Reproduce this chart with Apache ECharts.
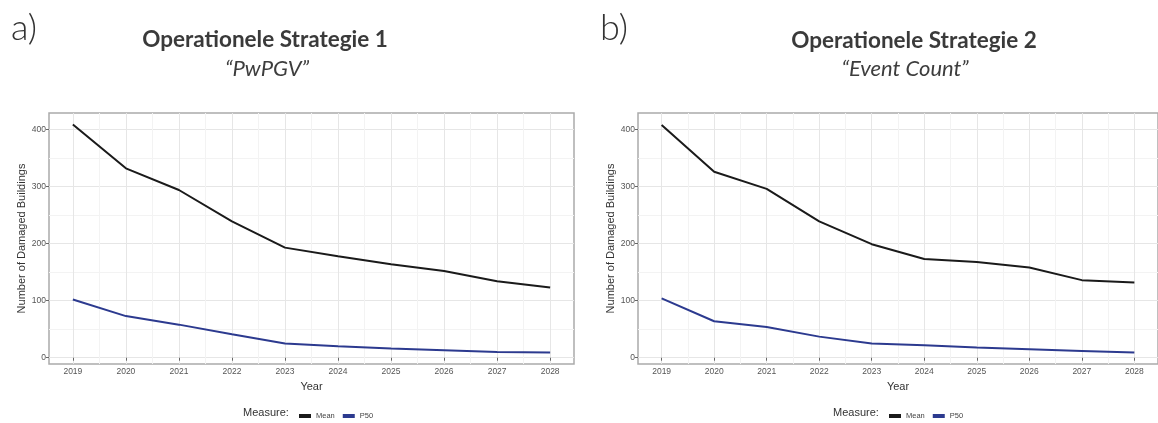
<!DOCTYPE html>
<html>
<head>
<meta charset="utf-8">
<script src="https://cdn.jsdelivr.net/npm/echarts@6/dist/echarts.min.js"></script>
<style>html,body{margin:0;padding:0;background:#fff;}#c{width:1158px;height:423px;}</style>
</head>
<body>
<div id="c"></div>
<script>
var years = [2019, 2020, 2021, 2022, 2023, 2024, 2025, 2026, 2027, 2028];
var mean1 = [409, 332, 294, 239, 193, 178, 164, 152, 134, 123];
var p50_1 = [102, 73, 58, 41, 25, 20, 16, 13, 10, 9];
var mean2 = [408, 326, 296, 239, 199, 173, 168, 158, 136, 132];
var p50_2 = [104, 64, 54, 37, 25, 22, 18, 15, 12, 9];
var yTicks = [0, 100, 200, 300, 400];
var yMinor = [50, 150, 250, 350];
var xMinor = [2019.5, 2020.5, 2021.5, 2022.5, 2023.5, 2024.5, 2025.5, 2026.5, 2027.5];

function pairs(vals) { return years.map(function (y, i) { return [y, vals[i]]; }); }

var FONT = 'Liberation Sans';
var tickCol = '#555';

function xMain(grid) {
  return {
    type: 'value', gridIndex: grid, min: 2018.55, max: 2028.45,
    name: 'Year', nameLocation: 'middle', nameGap: 17,
    nameTextStyle: { fontFamily: FONT, fontSize: 11, color: '#333' },
    axisLine: { show: false },
    axisTick: { show: true, length: 3, lineStyle: { color: '#666' }, customValues: years },
    axisLabel: { fontFamily: FONT, fontSize: 8.5, color: tickCol, margin: 3, customValues: years, formatter: function (v) { return String(v); } },
    splitLine: { show: true, lineStyle: { color: '#e6e6e6', width: 1 } }
  };
}
function xMin(grid) {
  return {
    type: 'value', gridIndex: grid, min: 2018.55, max: 2028.45, position: 'bottom',
    axisLine: { show: false }, axisTick: { show: false, customValues: xMinor },
    axisLabel: { show: false, customValues: xMinor },
    splitLine: { show: true, lineStyle: { color: '#f3f3f3', width: 1 } }
  };
}
function yMain(grid) {
  return {
    type: 'value', gridIndex: grid, min: -11, max: 429,
    name: 'Number of Damaged Buildings', nameLocation: 'middle', nameGap: 22,
    nameTextStyle: { fontFamily: FONT, fontSize: 11, color: '#333' },
    axisLine: { show: false },
    axisTick: { show: true, length: 3, lineStyle: { color: '#666' }, customValues: yTicks },
    axisLabel: { fontFamily: FONT, fontSize: 8.5, color: tickCol, margin: 3, customValues: yTicks },
    splitLine: { show: true, lineStyle: { color: '#e6e6e6', width: 1 } }
  };
}
function yMin(grid) {
  return {
    type: 'value', gridIndex: grid, min: -11, max: 429, position: 'left',
    axisLine: { show: false }, axisTick: { show: false, customValues: yMinor },
    axisLabel: { show: false, customValues: yMinor },
    splitLine: { show: true, lineStyle: { color: '#f3f3f3', width: 1 } }
  };
}

var meanColor = '#1a1a1a';
var p50Color = '#2c3a8f';

function line(name, data, grid, color) {
  return {
    type: 'line', name: name, data: pairs(data),
    xAxisIndex: grid * 2, yAxisIndex: grid * 2,
    showSymbol: false, symbol: 'none',
    lineStyle: { color: color, width: 2 }, itemStyle: { color: color },
    z: 5
  };
}

function txt(s, x, y, font, fill, align) {
  return { type: 'text', x: x, y: y, style: { text: s, font: font, fill: fill, align: align || 'left', verticalAlign: 'middle' } };
}

var chart = echarts.init(document.getElementById('c'));
chart.setOption({
  animation: false,
  backgroundColor: '#fff',
  grid: [
    { left: 49, top: 113, width: 525, height: 251, show: true, borderColor: '#ababab', borderWidth: 1.5, backgroundColor: '#fff' },
    { left: 638, top: 113, width: 526, height: 251, show: true, borderColor: '#ababab', borderWidth: 1.5, backgroundColor: '#fff' }
  ],
  xAxis: [xMain(0), xMin(0), xMain(1), xMin(1)],
  yAxis: [yMain(0), yMin(0), yMain(1), yMin(1)],
  legend: [
    { data: ['Mean', 'P50'], left: 294, top: 407, icon: 'rect', itemWidth: 12, itemHeight: 4, itemGap: 8, textStyle: { fontFamily: FONT, fontSize: 7.5, color: '#444' } },
    { data: ['Mean', 'P50'], left: 884, top: 407, icon: 'rect', itemWidth: 12, itemHeight: 4, itemGap: 8, textStyle: { fontFamily: FONT, fontSize: 7.5, color: '#444' } }
  ],
  graphic: [
    txt('a)', 11, 28, '300 36px Lato', '#333'),
    txt('Operationele Strategie 1', 265, 40, 'bold 22.5px Lato', '#3a3a3a', 'center'),
    txt('\u201CPwPGV\u201D', 267, 69, 'italic 22px Lato', '#3d3d3d', 'center'),
    txt('b)', 600, 28, '300 36px Lato', '#333'),
    txt('Operationele Strategie 2', 914, 41, 'bold 22.5px Lato', '#3a3a3a', 'center'),
    txt('\u201CEvent Count\u201D', 905, 69, 'italic 22px Lato', '#3d3d3d', 'center'),
    txt('Measure:', 243, 413, '11px "Liberation Sans"', '#333'),
    txt('Measure:', 833, 413, '11px "Liberation Sans"', '#333')
  ],
  series: [
    line('Mean', mean1, 0, meanColor),
    line('P50', p50_1, 0, p50Color),
    line('Mean', mean2, 1, meanColor),
    line('P50', p50_2, 1, p50Color)
  ]
});
</script>
</body>
</html>
